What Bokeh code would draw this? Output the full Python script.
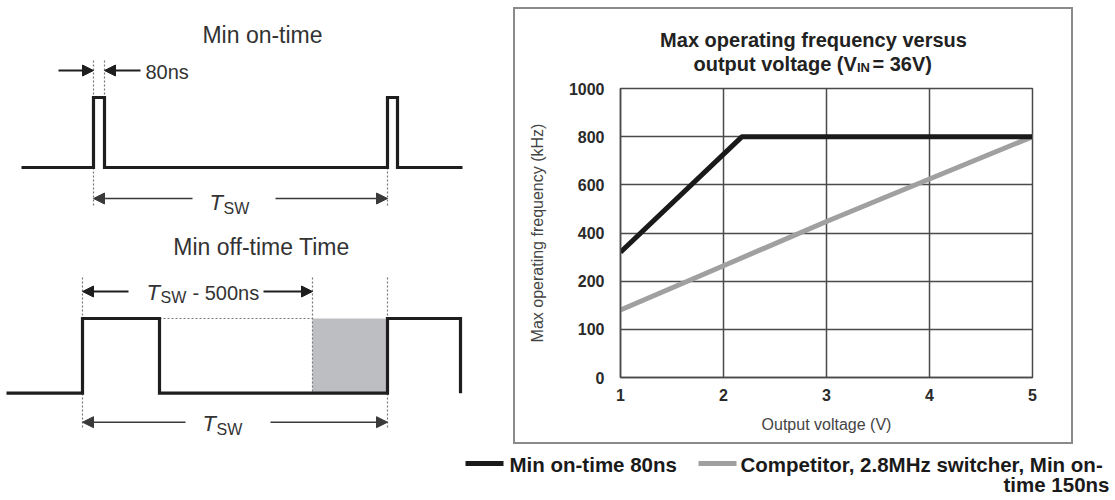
import numpy as np
from bokeh.plotting import figure
from bokeh.layouts import row, column
from bokeh.models import Range1d, Arrow, NormalHead, FixedTicker
from bokeh.core.properties import value
from bokeh.embed import file_html
from bokeh.resources import INLINE

# ---------------- data ----------------
x_ticks = [1, 2, 3, 4, 5]
y_tick_values = [0, 100, 200, 400, 600, 800, 1000]   # equally spaced labels on the y axis

volts_80ns = [1, 2.18, 5]
freq_80ns = [320, 800, 800]

volts_comp = [1, 2, 3, 4, 5]
freq_comp = [140, 264, 448, 624, 800]

series_names = ["Min on-time 80ns", "Competitor, 2.8MHz switcher,  Min on-", "time 150ns"]
chart_title = ["Max operating frequency versus", "output voltage (V", "IN", "= 36V)"]
x_title = "Output voltage (V)"
y_title = "Max operating frequency (kHz)"

# timing diagram waveforms (diagram geometry, pixel-like units)
on_wave_x = [21, 93, 93, 104, 104, 387, 387, 397, 397, 462]
on_wave_y = [167, 167, 97, 97, 167, 167, 97, 97, 167, 167]
off_wave_x = [6, 82, 82, 159, 159, 387, 387, 460, 460]
off_wave_y = [392.7, 392.7, 318, 318, 392.7, 392.7, 318, 318, 392.7]

FONT = value("Liberation Sans")
DARK = "#1e1e1e"
TXT = "#333333"
GRID = "#4a4a4a"


def bare(width, height, xr, yr):
    f = figure(width=width, height=height, x_range=Range1d(*xr), y_range=Range1d(*yr),
               output_backend="svg", toolbar_location=None,
               x_axis_location=None, y_axis_location=None,
               min_border_left=0, min_border_right=0, min_border_top=0, min_border_bottom=0)
    f.outline_line_color = None
    f.grid.grid_line_color = None
    f.frame_align = False
    return f


# ---------------- left: timing diagrams ----------------
left = bare(513, 444, (0, 513), (444, 0))

left.quad(left=[312], right=[387], top=[318], bottom=[392.7], fill_color="#bdbec1", line_color=None)

dot_xs = [[93, 93], [104, 104], [93, 93], [387, 387],
          [82, 82], [312, 312], [387, 387], [159, 312]]
dot_ys = [[60, 97], [60, 97], [167, 207], [167, 207],
          [277, 427], [277, 392], [277, 427], [318, 318]]
left.multi_line(dot_xs, dot_ys, line_color="#777777", line_width=1.2, line_dash="2 2")

left.line(on_wave_x, on_wave_y, line_color=DARK, line_width=3.2, line_join="miter")
left.line(off_wave_x, off_wave_y, line_color=DARK, line_width=3.2, line_join="miter")


def arrow(x0, y0, x1, y1, color, width, size):
    left.add_layout(Arrow(end=NormalHead(size=size, fill_color=color, line_color=color),
                          x_start=x0, y_start=y0, x_end=x1, y_end=y1,
                          line_color=color, line_width=width))


arrow(58, 70, 93, 70, DARK, 2, 11)
arrow(140, 70, 104, 70, DARK, 2, 11)
arrow(192, 198, 93, 198, "#3a3a3a", 1.5, 11)
arrow(275, 198, 387, 198, "#3a3a3a", 1.5, 11)
arrow(128, 291, 82, 291, DARK, 2, 11)
arrow(263, 291, 312, 291, DARK, 2, 11)
arrow(185, 421.7, 82, 421.7, "#3a3a3a", 1.5, 11)
arrow(270, 421.7, 387, 421.7, "#3a3a3a", 1.5, 11)

left.text(x=[262, 261], y=[34, 246], text=["Min on-time", "Min off-time Time"],
          text_font=FONT, text_font_size="23px", text_align="center",
          text_baseline="middle", text_color=TXT)
left.text(x=[145, 192], y=[71, 292], text=["80ns", "- 500ns"],
          text_font=FONT, text_font_size="20px", text_align="left",
          text_baseline="middle", text_color=TXT)
left.text(x=[209, 146, 202], y=[202, 292, 423], text=["T", "T", "T"],
          text_font=FONT, text_font_size="22px", text_font_style="italic",
          text_align="left", text_baseline="middle", text_color=TXT)
left.text(x=[223, 160, 216], y=[208, 297, 429], text=["SW", "SW", "SW"],
          text_font=FONT, text_font_size="16px",
          text_align="left", text_baseline="middle", text_color=TXT)

# ---------------- right: chart title strip (inside the box) ----------------
tfig = bare(556, 70, (515, 1071), (79, 9))
tkw = dict(text_font=FONT, text_font_style="bold", text_color="#222222", text_baseline="middle")
tfig.text(x=[813], y=[39], text=[chart_title[0]], text_align="center", text_font_size="20px", **tkw)
tfig.text(x=[693], y=[63], text=[chart_title[1]], text_align="left", text_font_size="20px", **tkw)
tfig.text(x=[856.5], y=[67], text=[chart_title[2]], text_align="left", text_font_size="13px", **tkw)
tfig.text(x=[872], y=[63], text=[chart_title[3]], text_align="left", text_font_size="20px", **tkw)

# ---------------- right: chart ----------------
pos = np.arange(len(y_tick_values))


def ypos(v):
    return np.interp(v, y_tick_values, pos)


chart = figure(width=556, height=363, x_range=Range1d(1, 5), y_range=Range1d(0, pos[-1]),
               output_backend="svg", toolbar_location=None,
               min_border_left=105, min_border_right=39, min_border_top=9, min_border_bottom=65)
chart.frame_align = False
chart.outline_line_color = GRID
chart.outline_line_width = 1.5

chart.xaxis.ticker = FixedTicker(ticks=x_ticks)
chart.yaxis.ticker = FixedTicker(ticks=list(pos))
chart.yaxis.major_label_overrides = {int(p): str(v) for p, v in zip(pos, y_tick_values)}
chart.xgrid.ticker = FixedTicker(ticks=x_ticks)
chart.ygrid.ticker = FixedTicker(ticks=list(pos))
chart.grid.grid_line_color = GRID
chart.grid.grid_line_width = 1.5

for ax in (chart.xaxis, chart.yaxis):
    ax.axis_line_color = GRID
    ax.axis_line_width = 1.5
    ax.major_tick_line_color = None
    ax.minor_tick_line_color = None
    ax.major_tick_out = 0
    ax.major_tick_in = 0
    ax.minor_tick_out = 0
    ax.major_label_text_font = "Liberation Sans"
    ax.major_label_text_font_style = "bold"
    ax.major_label_text_font_size = "16px"
    ax.major_label_text_color = "#2a2a2a"
    ax.axis_label_text_font = "Liberation Sans"
    ax.axis_label_text_font_style = "normal"
    ax.axis_label_text_font_size = "16px"
    ax.axis_label_text_color = "#444444"

chart.xaxis.axis_label = x_title
chart.yaxis.axis_label = y_title
chart.xaxis.major_label_standoff = 11
chart.xaxis.axis_label_standoff = 12
chart.yaxis.major_label_standoff = 16
chart.yaxis.axis_label_standoff = 20

chart.line(volts_comp, ypos(freq_comp), line_color="#a0a0a0", line_width=5, line_cap="round")
chart.line(volts_80ns, ypos(freq_80ns), line_color="#1a1a1a", line_width=5)

box = column(tfig, chart, margin=(7, 0, 0, 0),
             styles={"border": "2px solid #8a8a8a", "box-sizing": "content-box"})

# ---------------- legend strip ----------------
leg = bare(1115, 54, (0, 1115), (498, 444))
leg.line([465, 503], [463, 463], line_color="#1a1a1a", line_width=5)
leg.line([698, 736], [463, 463], line_color="#a0a0a0", line_width=5)
leg.text(x=[509, 740], y=[464, 464], text=series_names[:2], text_font=FONT,
         text_font_style="bold", text_font_size="20.5px", text_align="left",
         text_baseline="middle", text_color="#1a1a1a")
leg.text(x=[1109], y=[484], text=series_names[2:], text_font=FONT,
         text_font_style="bold", text_font_size="20.5px", text_align="right",
         text_baseline="middle", text_color="#1a1a1a")

layout = column(row(left, box), leg)
open("out.html", "w").write(file_html(layout, INLINE))
